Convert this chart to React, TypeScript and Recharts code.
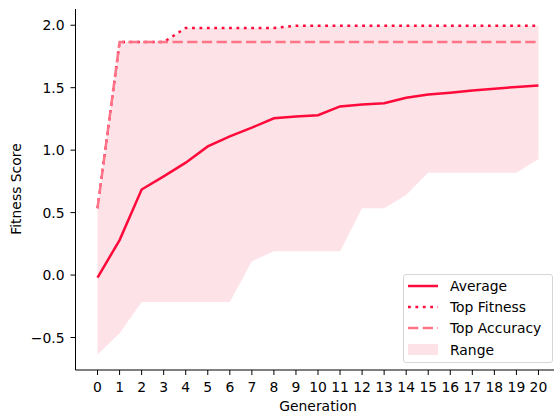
import React from "react";
import {
  ComposedChart,
  Area,
  Line,
  XAxis,
  YAxis,
} from "recharts";

const generations = [0, 1, 2, 3, 4, 5, 6, 7, 8, 9, 10, 11, 12, 13, 14, 15, 16, 17, 18, 19, 20];
const average = [
  -0.02, 0.28, 0.685, 0.79, 0.9, 1.03, 1.11, 1.18, 1.255, 1.27, 1.28,
  1.35, 1.365, 1.375, 1.42, 1.445, 1.46, 1.478, 1.492, 1.506, 1.518,
];
const topFitness = [
  0.535, 1.865, 1.865, 1.865, 1.978, 1.978, 1.978, 1.978, 1.978, 1.996, 1.996,
  1.996, 1.996, 1.996, 1.996, 1.996, 1.996, 1.996, 1.996, 1.996, 1.996,
];
const topAccuracy = [
  0.535, 1.865, 1.865, 1.865, 1.865, 1.865, 1.865, 1.865, 1.865, 1.865, 1.865,
  1.865, 1.865, 1.865, 1.865, 1.865, 1.865, 1.865, 1.865, 1.865, 1.865,
];
const rangeMin = [
  -0.635, -0.465, -0.215, -0.215, -0.215, -0.215, -0.215, 0.11, 0.19, 0.19, 0.19,
  0.19, 0.535, 0.535, 0.64, 0.82, 0.82, 0.82, 0.82, 0.82, 0.93,
];
const rangeMax = [
  0.535, 1.865, 1.865, 1.865, 1.978, 1.978, 1.978, 1.978, 1.978, 1.996, 1.996,
  1.996, 1.996, 1.996, 1.996, 1.996, 1.996, 1.996, 1.996, 1.996, 1.996,
];
const yTicks = [-0.5, 0, 0.5, 1, 1.5, 2];

const data = generations.map((g, i) => ({
  gen: g,
  average: average[i],
  topFitness: topFitness[i],
  topAccuracy: topAccuracy[i],
  range: [rangeMin[i], rangeMax[i]],
}));

const RED = "#ff0a3a";
const PINK = "#ff7487";
const FILL = "#fde3e8";
const FONT = "'DejaVu Sans', sans-serif";

const XTick = ({ x, y, payload }: any) => (
  <text x={x} y={y + 14.5} textAnchor="middle" fontSize={13.9} fontFamily={FONT} fill="#000">
    {payload.value}
  </text>
);

const YTick = ({ x, y, payload }: any) => {
  const v = payload.value;
  const label = (v < 0 ? "\u2212" : "") + Math.abs(v).toFixed(1);
  return (
    <text x={x} y={y + 5} textAnchor="end" fontSize={13.9} fontFamily={FONT} fill="#000">
      {label}
    </text>
  );
};

const legendItems = [
  { name: "Average", kind: "solid" },
  { name: "Top Fitness", kind: "dotted" },
  { name: "Top Accuracy", kind: "dashed" },
  { name: "Range", kind: "patch" },
];

const Handle = ({ kind }: { kind: string }) => (
  <svg width={30} height={14} style={{ display: "block" }}>
    {kind === "solid" && <line x1={0} y1={7} x2={30} y2={7} stroke={RED} strokeWidth={2.5} />}
    {kind === "dotted" && (
      <line x1={0} y1={7} x2={30} y2={7} stroke={RED} strokeWidth={2.5} strokeDasharray="2.8 4.6" />
    )}
    {kind === "dashed" && (
      <line x1={0} y1={7} x2={30} y2={7} stroke={PINK} strokeWidth={2.5} strokeDasharray="10.3 4.4" />
    )}
    {kind === "patch" && <rect x={0} y={1} width={30} height={11} fill={FILL} />}
  </svg>
);

const App = () => {
  return (
    <div
      style={{
        position: "fixed",
        left: 0,
        top: 0,
        width: 554,
        height: 418,
        overflow: "hidden",
        background: "#fff",
      }}
    >
      <ComposedChart
        width={580}
        height={418}
        data={data}
        margin={{ top: 9, right: 19.5, left: 15.5, bottom: 0 }}
      >
        <XAxis
          dataKey="gen"
          type="number"
          domain={[-1, 21]}
          ticks={generations}
          interval={0}
          height={48}
          tickSize={5}
          tickMargin={2}
          axisLine={{ stroke: "#000", strokeWidth: 1 }}
          tickLine={{ stroke: "#000", strokeWidth: 1 }}
          tick={<XTick />}
          label={(props: any) => (
            <text x={318} y={411} textAnchor="middle" fontSize={13.9} fontFamily={FONT} fill="#000">
              Generation
            </text>
          )}
        />
        <XAxis
          xAxisId="top"
          orientation="top"
          dataKey="gen"
          type="number"
          domain={[-1, 21]}
          height={0}
          tick={false}
          tickLine={false}
          axisLine={{ stroke: "#000", strokeWidth: 1 }}
        />
        <YAxis
          type="number"
          domain={[-0.76, 2.13]}
          allowDataOverflow
          ticks={yTicks}
          width={60}
          tickSize={5}
          tickMargin={6}
          axisLine={{ stroke: "#000", strokeWidth: 1 }}
          tickLine={{ stroke: "#000", strokeWidth: 1 }}
          tick={<YTick />}
          label={(props: any) => (
            <text
              x={0}
              y={0}
              transform="translate(21, 189) rotate(-90)"
              textAnchor="middle"
              fontSize={13.9}
              fontFamily={FONT}
              fill="#000"
            >
              Fitness Score
            </text>
          )}
        />
        <YAxis
          yAxisId="right"
          orientation="right"
          type="number"
          domain={[-0.76, 2.13]}
          width={0}
          tick={false}
          tickLine={false}
          axisLine={{ stroke: "#000", strokeWidth: 1 }}
        />
        <Area
          type="linear"
          dataKey="range"
          stroke="none"
          fill={FILL}
          fillOpacity={1}
          isAnimationActive={false}
        />
        <Line
          type="linear"
          dataKey="average"
          stroke={RED}
          strokeWidth={2.5}
          dot={false}
          isAnimationActive={false}
        />
        <Line
          type="linear"
          dataKey="topFitness"
          stroke={RED}
          strokeWidth={2.5}
          strokeDasharray="2.8 4.6"
          dot={false}
          isAnimationActive={false}
        />
        <Line
          type="linear"
          dataKey="topAccuracy"
          stroke={PINK}
          strokeWidth={2.5}
          strokeDasharray="10.3 4.4"
          dot={false}
          isAnimationActive={false}
        />
      </ComposedChart>
      <div
        style={{
          position: "absolute",
          left: 403,
          top: 274,
          width: 148,
          height: 87,
          border: "1px solid #d6d6d6",
          borderRadius: 3,
          background: "rgba(255,255,255,0.8)",
          fontFamily: FONT,
          fontSize: 13.9,
          color: "#000",
        }}
      >
        {legendItems.map((item, i) => (
          <div
            key={item.name}
            style={{
              position: "absolute",
              left: 4,
              top: 4 + i * 21.2,
              height: 14,
              display: "flex",
              alignItems: "center",
            }}
          >
            <Handle kind={item.kind} />
            <span style={{ marginLeft: 12, lineHeight: "14px", whiteSpace: "nowrap" }}>{item.name}</span>
          </div>
        ))}
      </div>
    </div>
  );
};

export default App;
